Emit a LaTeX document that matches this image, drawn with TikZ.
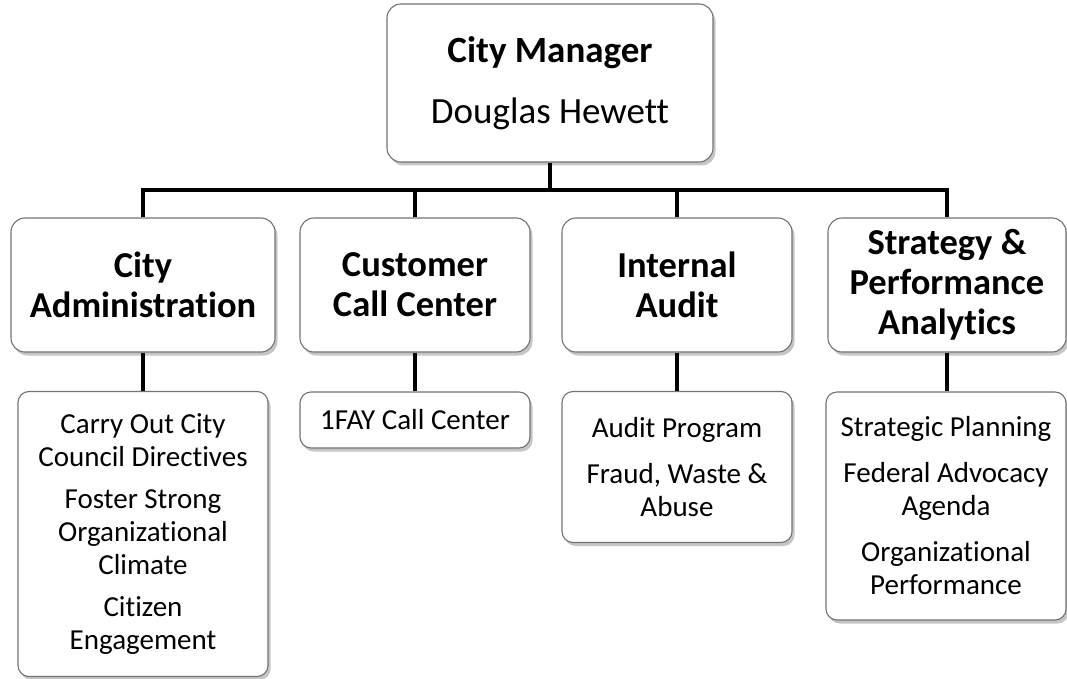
\documentclass[tikz,border=0pt]{standalone}
\usepackage{fontspec}
\setmainfont{Carlito}[Ligatures=NoCommon]
\usetikzlibrary{shadows}
\begin{document}
\begin{tikzpicture}[x=1pt,y=-1pt,
  box/.style={draw=black!55, line width=1.1pt, fill=white, rounded corners=14pt, align=center,
    inner sep=0pt, drop shadow={shadow xshift=2.5pt, shadow yshift=-3.5pt, fill=black!45, opacity=0.5}},
  topbox/.style={box, font=\fontsize{37}{61}\selectfont},
  midbox/.style={box, font=\bfseries\fontsize{36.5}{40}\selectfont},
  subbox/.style={box, rounded corners=11pt, font=\fontsize{29}{33}\selectfont},
  conn/.style={line width=4pt, black}]
\useasboundingbox (0,0) rectangle (1067,679);

\node[topbox, minimum width=326pt, minimum height=158pt] (cm) at (550,83)
  {\textbf{City Manager}\\Douglas Hewett};

\node[midbox, minimum width=264pt, minimum height=134pt] (ca) at (143,285) {City\\Administration};
\node[midbox, minimum width=230pt, minimum height=134pt] (cc) at (415,285) {Customer\\Call Center};
\node[midbox, minimum width=230pt, minimum height=134pt] (ia) at (677,285) {Internal\\Audit};
\node[midbox, minimum width=238pt, minimum height=134pt] (sp) at (947,285) {Strategy \&\\Performance\\Analytics};

\node[subbox, minimum width=250pt, minimum height=285pt] (ca3) at (143,534)
  {Carry Out City\\Council Directives\\[9pt]Foster Strong\\Organizational\\Climate\\[9pt]Citizen\\Engagement};
\node[subbox, minimum width=230pt, minimum height=56pt] (cc3) at (415,420) {1FAY Call Center};
\node[subbox, minimum width=230pt, minimum height=151pt] (ia3) at (677,467)
  {Audit Program\\[13pt]Fraud, Waste \&\\Abuse};
\node[subbox, minimum width=240pt, minimum height=228pt] (sp3) at (946,506)
  {Strategic Planning\\[13pt]Federal Advocacy\\Agenda\\[13pt]Organizational\\Performance};

\coordinate (bus) at (550,190);
\draw[conn] (cm.south) -- (bus);
\draw[conn] (ca.north) |- (bus) -| (sp.north);
\draw[conn] (cc.north) -- (cc.north |- bus);
\draw[conn] (ia.north) -- (ia.north |- bus);
\draw[conn] (ca.south) -- (ca3.north);
\draw[conn] (cc.south) -- (cc3.north);
\draw[conn] (ia.south) -- (ia3.north);
\draw[conn] (sp.south) -- (sp.south |- sp3.north);
\end{tikzpicture}
\end{document}
